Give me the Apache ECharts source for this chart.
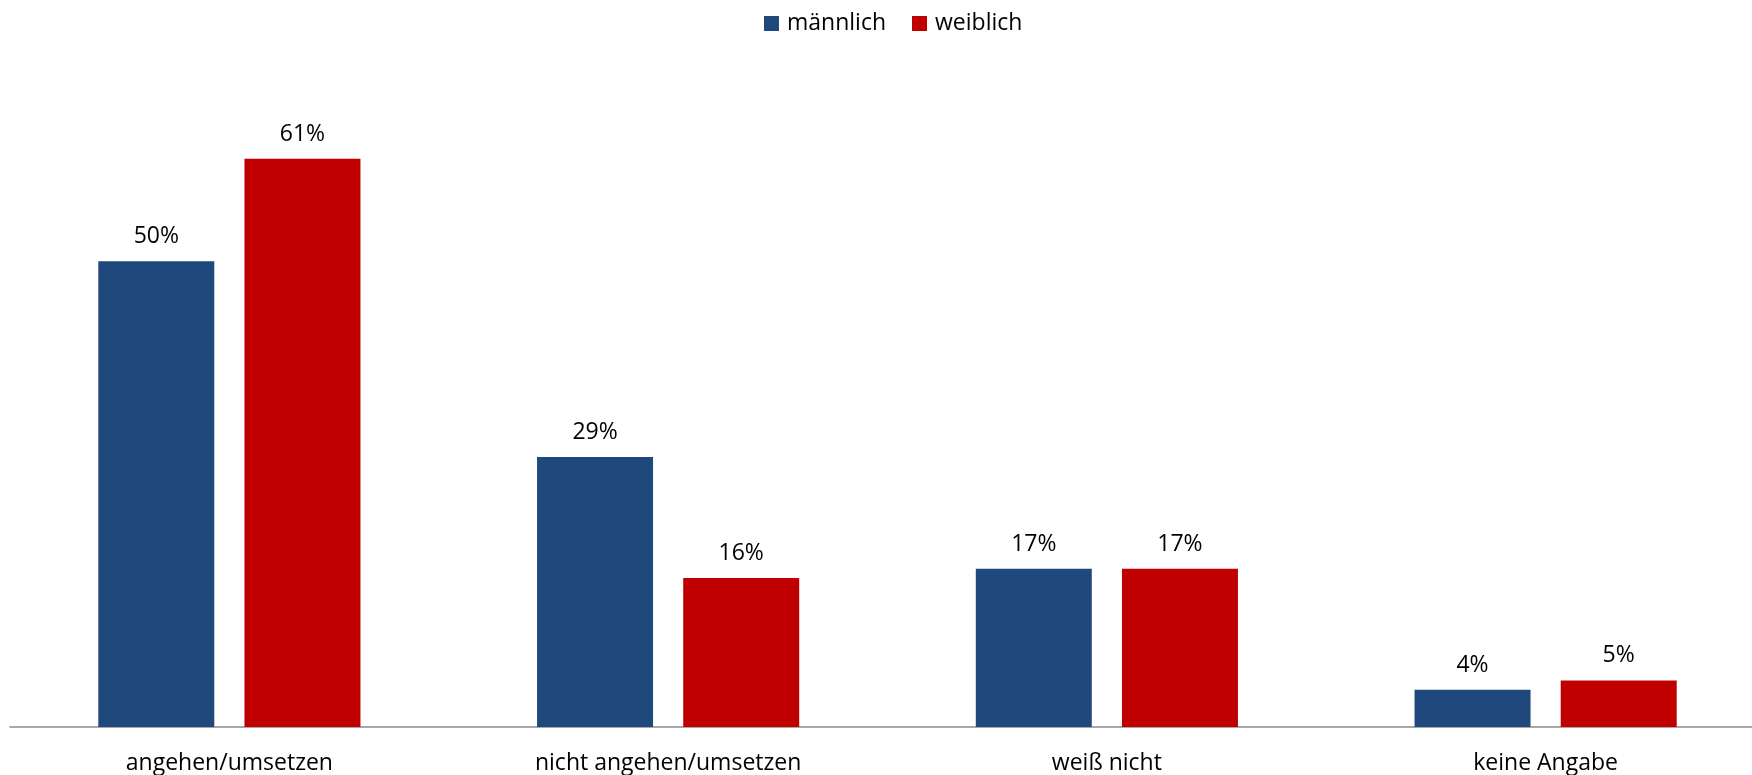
<!DOCTYPE html>
<html>
<head>
<meta charset="utf-8">
<script src="https://cdn.jsdelivr.net/npm/echarts@6/dist/echarts.min.js"></script>
<style>
  html, body { margin: 0; padding: 0; background: #fff; overflow: hidden; }
  /* the drawing surface is a little wider than the window, so the last group sits near the edge */
  #chart { width: 1765px; height: 775px; }
</style>
</head>
<body>
<div id="chart"></div>
<script>
// Answer categories along the x axis
const categories = ['angehen/umsetzen', 'nicht angehen/umsetzen', 'weiß nicht', 'keine Angabe'];
// Share of respondents in percent, per gender
const maleValues = [50, 29, 17, 4];
const femaleValues = [61, 16, 17, 5];
const seriesNames = ['männlich', 'weiblich'];

const FONT = '"Open Sans", "Liberation Sans", sans-serif';

const chart = echarts.init(document.getElementById('chart'), null, { renderer: 'canvas' });

const labelStyle = {
  show: true,
  position: 'top',
  distance: 13,
  formatter: p => p.value + '%',
  color: '#000',
  fontSize: 23,
  fontFamily: FONT
};

chart.setOption({
  animation: false,
  backgroundColor: '#fff',
  legend: {
    top: 7,
    left: 759,
    itemWidth: 15,
    itemHeight: 15,
    itemGap: 26,
    icon: 'rect',
    textStyle: { color: '#000', fontSize: 23, fontFamily: FONT, padding: [0, 0, 0, 3] },
    data: seriesNames
  },
  grid: { left: 10, right: 0, top: 75, bottom: 47, containLabel: false },
  xAxis: {
    type: 'category',
    data: categories,
    axisLine: { show: true, lineStyle: { color: '#8c8c8c', width: 1.5 } },
    axisTick: { show: false },
    axisLabel: { color: '#000', fontSize: 23, fontFamily: FONT, margin: 25 }
  },
  yAxis: {
    type: 'value',
    min: 0,
    max: 70,
    show: false,
    splitLine: { show: false }
  },
  series: [
    {
      name: seriesNames[0],
      type: 'bar',
      data: maleValues,
      barWidth: 116,
      barGap: '26%',
      itemStyle: { color: '#1f497d' },
      label: labelStyle
    },
    {
      name: seriesNames[1],
      type: 'bar',
      data: femaleValues,
      barWidth: 116,
      itemStyle: { color: '#c00000' },
      label: labelStyle
    }
  ]
});
</script>
</body>
</html>
